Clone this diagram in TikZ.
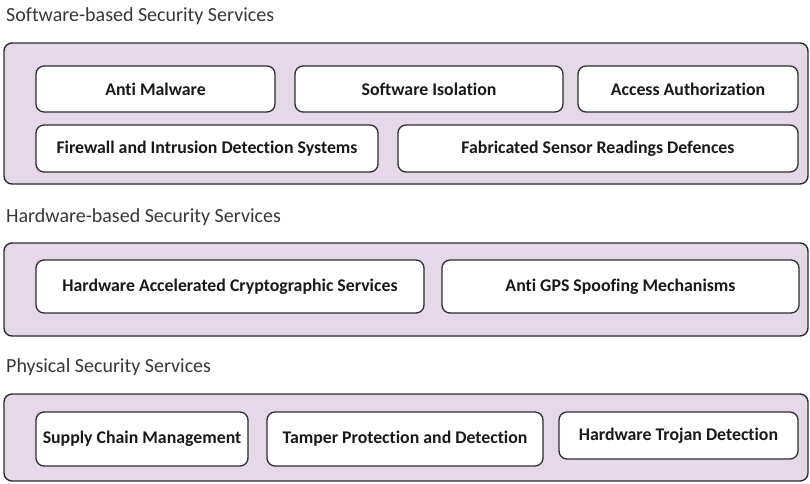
\documentclass[tikz,border=0pt]{standalone}
\usepackage{fontspec}
\setmainfont{Carlito}[Ligatures=NoCommon]
\definecolor{lav}{RGB}{228,216,233}
\definecolor{edge}{RGB}{45,45,45}
\definecolor{ttl}{RGB}{55,55,55}
\begin{document}
\begin{tikzpicture}[x=1pt,y=-1pt,
  group/.style={draw=edge,line width=1.4pt,fill=lav,rounded corners=8pt},
  item/.style={draw=edge,line width=1.3pt,fill=white,rounded corners=8pt,
    font=\fontsize{17.8}{21}\selectfont\bfseries,text=black!90,inner sep=0pt},
  title/.style={anchor=base west,font=\fontsize{20}{24}\selectfont,text=ttl,inner sep=0pt}]
\useasboundingbox (0,0) rectangle (810,483);
% titles
\node[title] (t1) at (6,21) {Software-based Security Services};
\node[title] (t2) at (6,222) {Hardware-based Security Services};
\node[title] (t3) at (6,372) {Physical Security Services};
% group boxes
\draw[group] (4,43) rectangle (808,184);
\draw[group] (4,243) rectangle (808,336);
\draw[group] (4,394) rectangle (808,481);
% software items
\node[item,minimum width=239pt,minimum height=46pt] (am) at (155.5,89) {Anti Malware};
\node[item,minimum width=268pt,minimum height=46pt] (si) at (429,89) {Software Isolation};
\node[item,minimum width=220pt,minimum height=46pt] (aa) at (688,89) {Access Authorization};
\node[item,minimum width=342pt,minimum height=47pt] (fw) at (207,148.5) {Firewall and Intrusion Detection Systems};
\node[item,minimum width=400pt,minimum height=47pt] (fs) at (598,148.5) {Fabricated Sensor Readings Defences};
% hardware items
\node[item,minimum width=388pt,minimum height=53pt] (hac) at (230,286.5) {Hardware Accelerated Cryptographic Services};
\node[item,minimum width=357pt,minimum height=53pt] (gps) at (620.5,286.5) {Anti GPS Spoofing Mechanisms};
% physical items
\node[item,minimum width=212pt,minimum height=54pt] (scm) at (142,439) {Supply Chain Management};
\node[item,minimum width=276pt,minimum height=54pt] (tpd) at (405,439) {Tamper Protection and Detection};
\node[item,minimum width=239pt,minimum height=47pt] (htd) at (678.5,435.5) {Hardware Trojan Detection};
\end{tikzpicture}
\end{document}
